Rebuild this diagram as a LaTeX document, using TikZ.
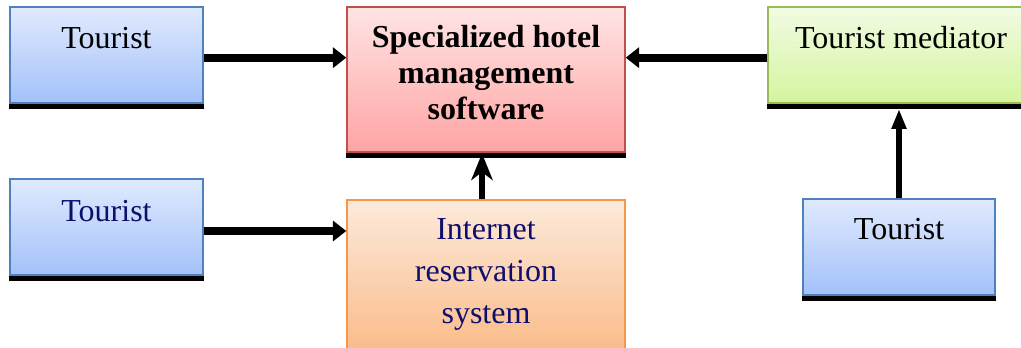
\documentclass[tikz,border=0pt]{standalone}
\usepackage{fontspec}
\setmainfont{Liberation Serif}
\usetikzlibrary{arrows.meta}
\definecolor{bluetop}{HTML}{E0EAFE}
\definecolor{bluebot}{HTML}{A3C1FA}
\definecolor{blueline}{HTML}{4F81BD}
\definecolor{redtop}{HTML}{FFE4E4}
\definecolor{redbot}{HTML}{FFA4A4}
\definecolor{redline}{HTML}{C0504D}
\definecolor{greentop}{HTML}{F2FBE4}
\definecolor{greenbot}{HTML}{D4F59E}
\definecolor{greenline}{HTML}{9BBB59}
\definecolor{orangetop}{HTML}{FDEADB}
\definecolor{orangebot}{HTML}{FAB985}
\definecolor{orangeline}{HTML}{F79646}
\definecolor{navytext}{HTML}{0E0E6E}
\begin{document}
\begin{tikzpicture}[x=0.75pt,y=-0.75pt,
  box/.style={rectangle, inner sep=0pt, line width=1.1pt},
  bluebox/.style={box, draw=blueline, top color=bluetop, bottom color=bluebot},
  redbox/.style={box, draw=redline, top color=redtop, bottom color=redbot},
  greenbox/.style={box, draw=greenline, top color=greentop, bottom color=greenbot},
  orangebox/.style={box, draw=orangeline, top color=orangetop, bottom color=orangebot},
  txt/.style={inner sep=0pt, font=\fontsize{24}{27}\selectfont},
  bigarrow/.style={line width=6.2pt, -{Triangle[length=10pt,width=15pt]}},
  uparrow/.style={line width=4.5pt, -{Stealth[length=20pt,width=16pt,inset=6pt]}},
  smallarrow/.style={line width=4.5pt, -{Triangle[length=15pt,width=10.5pt]}},
  shadowbar/.style={fill=black}
]
\useasboundingbox (0,0) rectangle (1021,348);
\clip (0,0) rectangle (1021,348);

% boxes
\node[bluebox, minimum width=193*0.75pt, minimum height=96*0.75pt] (t1) at (106.5,55) {};
\node[redbox, minimum width=278*0.75pt, minimum height=145*0.75pt] (spec) at (486,79.5) {};
\node[greenbox, minimum width=268*0.75pt, minimum height=96*0.75pt] (med) at (902,55) {};
\node[bluebox, minimum width=193*0.75pt, minimum height=96*0.75pt] (t2) at (106.5,227) {};
\node[orangebox, minimum width=278*0.75pt, minimum height=160*0.75pt] (inet) at (486,280) {};
\node[bluebox, minimum width=192*0.75pt, minimum height=96*0.75pt] (t3) at (899,247) {};

% shadow bars
\fill[shadowbar] ([yshift=-0.5pt]t1.south west) rectangle ([yshift=-3.9pt]t1.south east);
\fill[shadowbar] ([yshift=-0.5pt]spec.south west) rectangle ([yshift=-3.9pt]spec.south east);
\fill[shadowbar] ([yshift=-0.5pt]med.south west) rectangle ([yshift=-3.9pt]med.south east);
\fill[shadowbar] ([yshift=-0.5pt]t2.south west) rectangle ([yshift=-3.9pt]t2.south east);
\fill[shadowbar] ([yshift=-0.5pt]t3.south west) rectangle ([yshift=-3.9pt]t3.south east);

% texts
\node[txt, anchor=base] (t1text) at (106.5,49) {Tourist};
\node[txt, anchor=base, text=navytext] (t2text) at (106.5,222) {Tourist};
\node[txt, anchor=base] (t3text) at (899,240) {Tourist};
\node[txt, anchor=base] (medtext) at (901,49) {Tourist mediator};
\node[txt, align=center, font=\fontsize{24}{27}\selectfont\bfseries] (spectext) at (486,73) {Specialized hotel\\management\\software};
\node[txt, align=center, text=navytext, font=\fontsize{24}{31.5}\selectfont] (inettext) at (486,274.5) {Internet\\reservation\\system};

% connectors
\draw[bigarrow] ([yshift=-2pt]t1.east) -- ([yshift=-2pt]t1.east -| spec.west);
\draw[bigarrow] ([yshift=-2pt]med.west) -- ([yshift=-2pt]med.west -| spec.east);
\draw[bigarrow] ([yshift=-3pt]t2.east) -- ([yshift=-3pt]t2.east -| inet.west);
\draw[uparrow] ([xshift=-3pt]inet.north) -- ([xshift=-3pt,yshift=-0.5pt]spec.south);
\draw[smallarrow] (t3.north) -- ([yshift=-3.9pt]t3.north |- med.south);
\end{tikzpicture}
\end{document}
